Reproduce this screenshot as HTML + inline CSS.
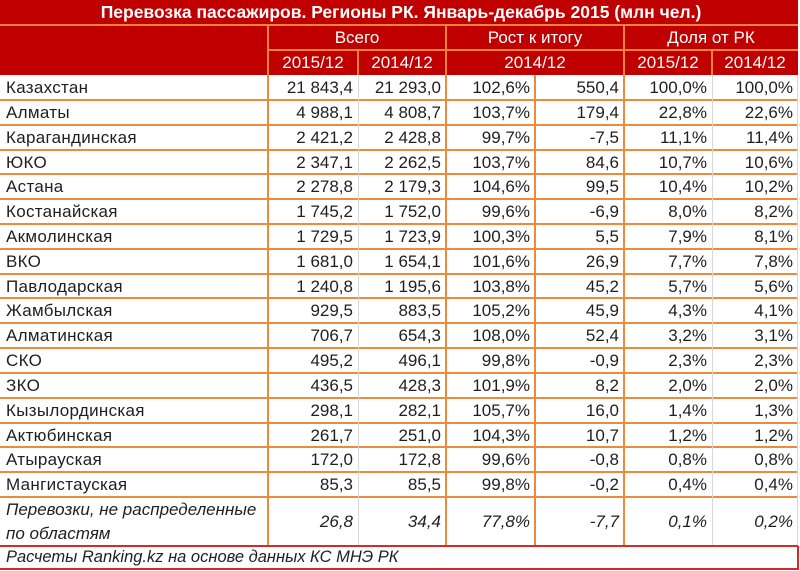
<!DOCTYPE html>
<html><head><meta charset="utf-8">
<style>
*{box-sizing:border-box}
body{margin:0;width:800px;height:571px;background:#fff;position:relative;overflow:hidden;font-family:"Liberation Sans","DejaVu Sans",sans-serif;color:#1f1f1f}
.a{position:absolute}
.red{background:#c00000}
.ht{color:#fff;font-size:17px;text-align:center;line-height:25px;white-space:nowrap}
.row{position:absolute;left:0;width:798px;height:24.82px}
.row div{position:absolute;top:0;height:24.82px;line-height:25px;font-size:17px;text-align:right;padding-right:5px;white-space:nowrap}
.row div:nth-child(1){left:0;width:268px;text-align:left;padding-left:6px;letter-spacing:0.3px}
.row div:nth-child(2){left:268px;width:90px}
.row div:nth-child(3){left:358px;width:88px}
.row div:nth-child(4){left:446px;width:89px}
.row div:nth-child(5){left:535px;width:89px}
.row div:nth-child(6){left:624px;width:88px}
.row div:nth-child(7){left:712px;width:86px}
.ol{background:#ef8a3c}
.hl{background:#f0823a}
.gl{background:#d8d8d8}
</style></head><body>
<!-- header -->
<div class="a red" style="left:0;top:0;width:798px;height:75px"></div>
<div class="a ht" style="left:0;top:0;width:802px;font-weight:bold;font-size:17.5px">Перевозка пассажиров. Регионы РК. Январь-декабрь 2015 (млн чел.)</div>
<div class="a hl" style="left:0;top:24px;width:798px;height:2px"></div>
<div class="a hl" style="left:268px;top:49px;width:530px;height:2px"></div>
<div class="a hl" style="left:267px;top:25px;width:2px;height:50px"></div>
<div class="a hl" style="left:445px;top:25px;width:2px;height:50px"></div>
<div class="a hl" style="left:623px;top:25px;width:2px;height:50px"></div>
<div class="a hl" style="left:357px;top:50px;width:2px;height:25px"></div>
<div class="a hl" style="left:711px;top:50px;width:2px;height:25px"></div>
<div class="a ht" style="left:268px;top:25px;width:178px">Всего</div>
<div class="a ht" style="left:446px;top:25px;width:178px">Рост к итогу</div>
<div class="a ht" style="left:624px;top:25px;width:174px">Доля от РК</div>
<div class="a ht" style="left:268px;top:50px;width:90px">2015/12</div>
<div class="a ht" style="left:358px;top:50px;width:88px">2014/12</div>
<div class="a ht" style="left:446px;top:50px;width:178px">2014/12</div>
<div class="a ht" style="left:624px;top:50px;width:88px">2015/12</div>
<div class="a ht" style="left:712px;top:50px;width:86px">2014/12</div>

<!-- grid lines -->
<div class="a ol" style="left:0;top:99px;width:798px;height:2px"></div>
<div class="a ol" style="left:0;top:123.6px;width:798px;height:2px"></div>
<div class="a ol" style="left:0;top:148.5px;width:798px;height:2px"></div>
<div class="a ol" style="left:0;top:173.3px;width:798px;height:2px"></div>
<div class="a ol" style="left:0;top:198.1px;width:798px;height:2px"></div>
<div class="a ol" style="left:0;top:222.9px;width:798px;height:2px"></div>
<div class="a ol" style="left:0;top:247.7px;width:798px;height:2px"></div>
<div class="a ol" style="left:0;top:272.6px;width:798px;height:2px"></div>
<div class="a ol" style="left:0;top:297.4px;width:798px;height:2px"></div>
<div class="a ol" style="left:0;top:322.2px;width:798px;height:2px"></div>
<div class="a ol" style="left:0;top:347px;width:798px;height:2px"></div>
<div class="a ol" style="left:0;top:371.8px;width:798px;height:2px"></div>
<div class="a ol" style="left:0;top:396.7px;width:798px;height:2px"></div>
<div class="a ol" style="left:0;top:421.5px;width:798px;height:2px"></div>
<div class="a ol" style="left:0;top:446.3px;width:798px;height:2px"></div>
<div class="a ol" style="left:0;top:471.1px;width:798px;height:2px"></div>
<div class="a ol" style="left:0;top:496px;width:798px;height:2px"></div>
<div class="a ol" style="left:267px;top:75px;width:2px;height:471px"></div>
<div class="a gl" style="left:357.5px;top:75px;width:1px;height:471px"></div>
<div class="a ol" style="left:445px;top:75px;width:2px;height:471px"></div>
<div class="a ol" style="left:534px;top:75px;width:2px;height:471px"></div>
<div class="a ol" style="left:623px;top:75px;width:2px;height:471px"></div>
<div class="a gl" style="left:711.5px;top:75px;width:1px;height:471px"></div>
<div class="a gl" style="left:797px;top:75px;width:1px;height:471px"></div>
<div class="a" style="left:0;top:545px;width:798px;height:2px;background:#d42a2a"></div>
<div class="a" style="left:0;top:568px;width:798px;height:2px;background:#d42a2a"></div>
<div class="a" style="left:797px;top:546px;width:2px;height:24px;background:#d42a2a"></div>

<!-- data rows -->
<div class="row" style="top:75px"><div>Казахстан</div><div>21 843,4</div><div>21 293,0</div><div>102,6%</div><div>550,4</div><div>100,0%</div><div>100,0%</div></div>
<div class="row" style="top:99.8px"><div>Алматы</div><div>4 988,1</div><div>4 808,7</div><div>103,7%</div><div>179,4</div><div>22,8%</div><div>22,6%</div></div>
<div class="row" style="top:124.6px"><div>Карагандинская</div><div>2 421,2</div><div>2 428,8</div><div>99,7%</div><div>-7,5</div><div>11,1%</div><div>11,4%</div></div>
<div class="row" style="top:149.5px"><div>ЮКО</div><div>2 347,1</div><div>2 262,5</div><div>103,7%</div><div>84,6</div><div>10,7%</div><div>10,6%</div></div>
<div class="row" style="top:174.3px"><div>Астана</div><div>2 278,8</div><div>2 179,3</div><div>104,6%</div><div>99,5</div><div>10,4%</div><div>10,2%</div></div>
<div class="row" style="top:199.1px"><div>Костанайская</div><div>1 745,2</div><div>1 752,0</div><div>99,6%</div><div>-6,9</div><div>8,0%</div><div>8,2%</div></div>
<div class="row" style="top:223.9px"><div>Акмолинская</div><div>1 729,5</div><div>1 723,9</div><div>100,3%</div><div>5,5</div><div>7,9%</div><div>8,1%</div></div>
<div class="row" style="top:248.7px"><div>ВКО</div><div>1 681,0</div><div>1 654,1</div><div>101,6%</div><div>26,9</div><div>7,7%</div><div>7,8%</div></div>
<div class="row" style="top:273.6px"><div>Павлодарская</div><div>1 240,8</div><div>1 195,6</div><div>103,8%</div><div>45,2</div><div>5,7%</div><div>5,6%</div></div>
<div class="row" style="top:298.4px"><div>Жамбылская</div><div>929,5</div><div>883,5</div><div>105,2%</div><div>45,9</div><div>4,3%</div><div>4,1%</div></div>
<div class="row" style="top:323.2px"><div>Алматинская</div><div>706,7</div><div>654,3</div><div>108,0%</div><div>52,4</div><div>3,2%</div><div>3,1%</div></div>
<div class="row" style="top:348px"><div>СКО</div><div>495,2</div><div>496,1</div><div>99,8%</div><div>-0,9</div><div>2,3%</div><div>2,3%</div></div>
<div class="row" style="top:372.8px"><div>ЗКО</div><div>436,5</div><div>428,3</div><div>101,9%</div><div>8,2</div><div>2,0%</div><div>2,0%</div></div>
<div class="row" style="top:397.7px"><div>Кызылординская</div><div>298,1</div><div>282,1</div><div>105,7%</div><div>16,0</div><div>1,4%</div><div>1,3%</div></div>
<div class="row" style="top:422.5px"><div>Актюбинская</div><div>261,7</div><div>251,0</div><div>104,3%</div><div>10,7</div><div>1,2%</div><div>1,2%</div></div>
<div class="row" style="top:447.3px"><div>Атырауская</div><div>172,0</div><div>172,8</div><div>99,6%</div><div>-0,8</div><div>0,8%</div><div>0,8%</div></div>
<div class="row" style="top:472.1px"><div>Мангистауская</div><div>85,3</div><div>85,5</div><div>99,8%</div><div>-0,2</div><div>0,4%</div><div>0,4%</div></div>

<!-- undistributed row -->
<div class="row" style="top:497px;height:49px;font-style:italic"><div style="height:49px;line-height:24px;white-space:normal;padding-top:1px;letter-spacing:0">Перевозки, не распределенные<br>по областям</div><div style="height:49px;line-height:49px">26,8</div><div style="height:49px;line-height:49px">34,4</div><div style="height:49px;line-height:49px">77,8%</div><div style="height:49px;line-height:49px">-7,7</div><div style="height:49px;line-height:49px">0,1%</div><div style="height:49px;line-height:49px">0,2%</div></div>

<!-- footer -->
<div class="a" style="left:6px;top:546px;height:23px;line-height:23px;font-size:16.5px;font-style:italic;white-space:nowrap">Расчеты Ranking.kz на основе данных КС МНЭ РК</div>
</body></html>
